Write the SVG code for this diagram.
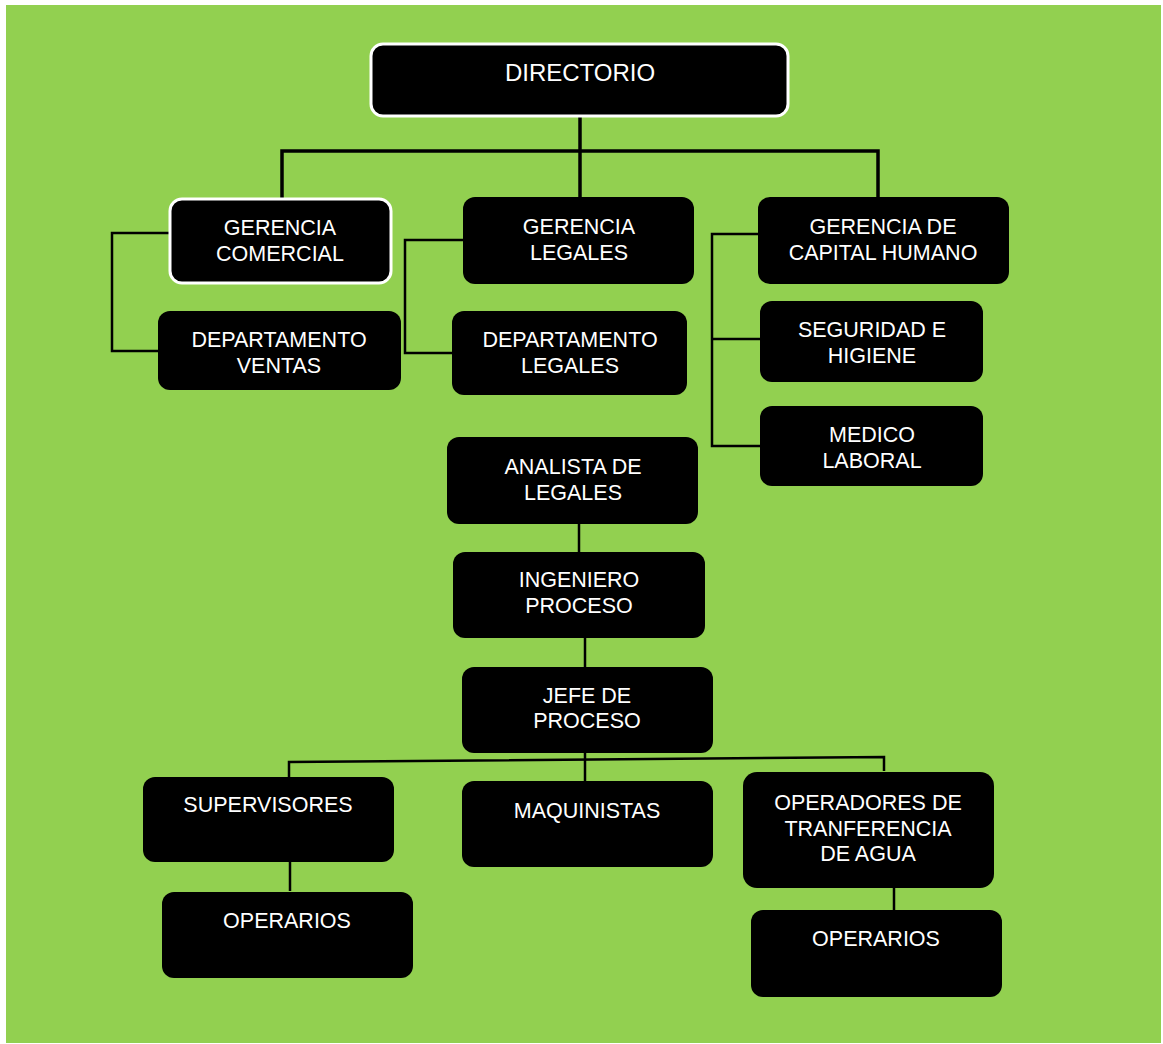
<svg xmlns="http://www.w3.org/2000/svg" width="1163" height="1044" viewBox="0 0 1163 1044">
<style>
.bg{fill:#92D050}
.box{fill:#000}
.wbox{fill:#000;stroke:#fff;stroke-width:3}
.t{font-family:"Liberation Sans",Arial,sans-serif;font-size:21.5px;fill:#fff;text-anchor:middle}
.c{fill:none;stroke:#000;stroke-width:2.5}
.ct{fill:none;stroke:#000;stroke-width:3.5}
</style>
<rect x="0" y="0" width="1163" height="1044" fill="#fff"/>
<rect class="bg" x="6" y="5" width="1155" height="1038"/>
<g id="connectors">
  <path class="ct" d="M580 117 V197"/>
  <path class="ct" d="M282 198 V151 H878 V197"/>
  <path class="c" d="M169 233 H112 V351 H158"/>
  <path class="c" d="M463 240 H405 V353 H452"/>
  <path class="c" d="M758 234 H712 V446 H760 M712 339 H760"/>
  <path class="c" d="M579 524 V552"/>
  <path class="c" d="M585 638 V667"/>
  <path class="c" d="M585 753 V781"/>
  <path class="c" d="M289 777 V762 L884 757 V771"/>
  <path class="c" d="M290 862 V891"/>
  <path class="c" d="M894 888 V910"/>
</g>
<g id="directorio">
  <rect class="wbox" x="371" y="44" width="417" height="72" rx="12"/>
  <text class="t" x="580" y="81" style="font-size:24px">DIRECTORIO</text>
</g>
<g id="gerencia-comercial">
  <rect class="wbox" x="170" y="199" width="221" height="84" rx="12"/>
  <text class="t" x="280" y="235">GERENCIA</text>
  <text class="t" x="280" y="261">COMERCIAL</text>
</g>
<g id="gerencia-legales">
  <rect class="box" x="463" y="197" width="231" height="87" rx="12"/>
  <text class="t" x="579" y="234">GERENCIA</text>
  <text class="t" x="579" y="260">LEGALES</text>
</g>
<g id="gerencia-capital-humano">
  <rect class="box" x="758" y="197" width="251" height="87" rx="12"/>
  <text class="t" x="883" y="234">GERENCIA DE</text>
  <text class="t" x="883" y="260">CAPITAL HUMANO</text>
</g>
<g id="departamento-ventas">
  <rect class="box" x="158" y="311" width="243" height="79" rx="12"/>
  <text class="t" x="279" y="347">DEPARTAMENTO</text>
  <text class="t" x="279" y="373">VENTAS</text>
</g>
<g id="departamento-legales">
  <rect class="box" x="452" y="311" width="235" height="84" rx="12"/>
  <text class="t" x="570" y="347">DEPARTAMENTO</text>
  <text class="t" x="570" y="373">LEGALES</text>
</g>
<g id="seguridad-higiene">
  <rect class="box" x="760" y="301" width="223" height="81" rx="12"/>
  <text class="t" x="872" y="337">SEGURIDAD E</text>
  <text class="t" x="872" y="363">HIGIENE</text>
</g>
<g id="medico-laboral">
  <rect class="box" x="760" y="406" width="223" height="80" rx="12"/>
  <text class="t" x="872" y="442">MEDICO</text>
  <text class="t" x="872" y="468">LABORAL</text>
</g>
<g id="analista-legales">
  <rect class="box" x="447" y="437" width="251" height="87" rx="12"/>
  <text class="t" x="573" y="474">ANALISTA DE</text>
  <text class="t" x="573" y="500">LEGALES</text>
</g>
<g id="ingeniero-proceso">
  <rect class="box" x="453" y="552" width="252" height="86" rx="12"/>
  <text class="t" x="579" y="587">INGENIERO</text>
  <text class="t" x="579" y="613">PROCESO</text>
</g>
<g id="jefe-proceso">
  <rect class="box" x="462" y="667" width="251" height="86" rx="12"/>
  <text class="t" x="587" y="703">JEFE DE</text>
  <text class="t" x="587" y="728">PROCESO</text>
</g>
<g id="supervisores">
  <rect class="box" x="143" y="777" width="251" height="85" rx="12"/>
  <text class="t" x="268" y="812">SUPERVISORES</text>
</g>
<g id="maquinistas">
  <rect class="box" x="462" y="781" width="251" height="86" rx="12"/>
  <text class="t" x="587" y="818">MAQUINISTAS</text>
</g>
<g id="operadores-transferencia">
  <rect class="box" x="743" y="772" width="251" height="116" rx="14"/>
  <text class="t" x="868" y="810">OPERADORES DE</text>
  <text class="t" x="868" y="836">TRANFERENCIA</text>
  <text class="t" x="868" y="861">DE AGUA</text>
</g>
<g id="operarios-1">
  <rect class="box" x="162" y="892" width="251" height="86" rx="12"/>
  <text class="t" x="287" y="928">OPERARIOS</text>
</g>
<g id="operarios-2">
  <rect class="box" x="751" y="910" width="251" height="87" rx="12"/>
  <text class="t" x="876" y="946">OPERARIOS</text>
</g>
</svg>
